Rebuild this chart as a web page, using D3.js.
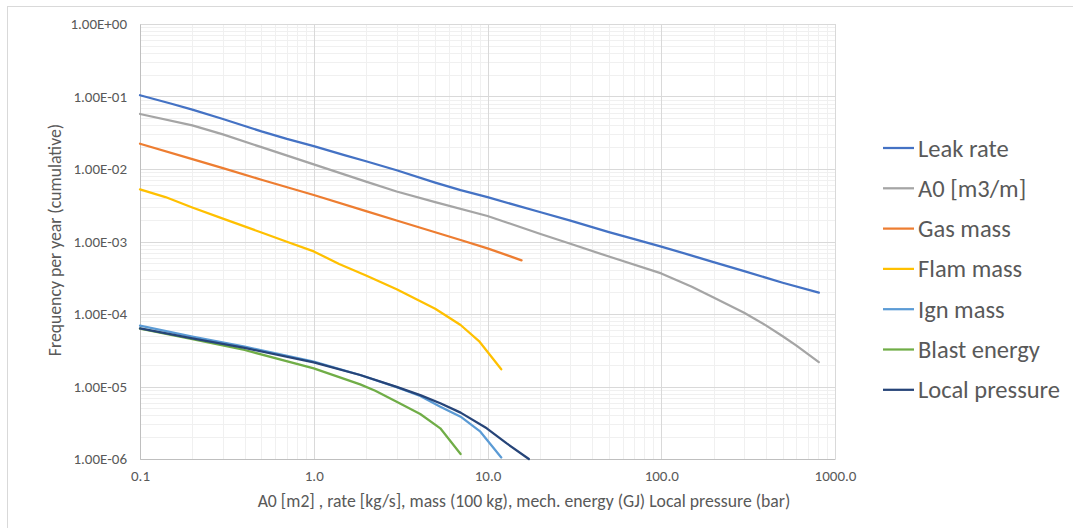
<!DOCTYPE html>
<html>
<head>
<meta charset="utf-8">
<script src="https://cdn.jsdelivr.net/npm/d3@7"></script>
<style>
  body { margin: 0; background: #fff; }
  svg { display: block; font-family: Carlito, "Open Sans", Lato, sans-serif; }
</style>
</head>
<body>
<div id="chart"></div>
<script>
// series data (x, cumulative frequency per year)
const leakX = [0.1, 0.15, 0.2, 0.3, 0.5, 0.7, 1, 1.5, 2, 3, 5, 7, 10, 15, 20, 30, 50, 70, 100, 150, 200, 300, 500, 807];
const leakY = [0.104, 0.080, 0.066, 0.049, 0.033, 0.026, 0.0207, 0.0155, 0.0128, 0.0096, 0.0065, 0.0051, 0.0041, 0.0031, 0.00255, 0.00194, 0.00135, 0.00108, 0.00085, 0.00064, 0.00052, 0.00039, 0.00027, 0.000197];

const a0X = [0.1, 0.2, 0.3, 0.5, 1, 2, 3, 5, 10, 20, 30, 50, 100, 150, 200, 300, 400, 500, 600, 807];
const a0Y = [0.0574, 0.040, 0.030, 0.020, 0.0116, 0.0067, 0.0049, 0.0035, 0.00225, 0.00128, 0.00093, 0.00062, 0.000363, 0.000237, 0.000169, 0.000104, 0.0000697, 0.0000493, 0.0000366, 0.0000217];

const gasX = [0.1, 0.2, 0.3, 0.5, 1, 2, 3, 5, 7, 10, 15.7];
const gasY = [0.0223, 0.0137, 0.0103, 0.0071, 0.00438, 0.00263, 0.00195, 0.00134, 0.00105, 0.000805, 0.00055];

const flamX = [0.1, 0.14, 0.2, 0.3, 0.5, 0.7, 1, 1.4, 2, 3, 5, 7, 9, 12];
const flamY = [0.00524, 0.0041, 0.00295, 0.00207, 0.00133, 0.00099, 0.00073, 0.00049, 0.00034, 0.00022, 0.000118, 0.0000705, 0.0000415, 0.0000173];

const ignX = [0.1, 0.2, 0.4, 1, 1.85, 3, 4.1, 5.35, 7, 9.1, 12];
const ignY = [6.9e-5, 4.86e-5, 3.54e-5, 2.2e-5, 1.44e-5, 9.8e-6, 7.4e-6, 5.27e-6, 3.83e-6, 2.38e-6, 1.05e-6];

const blastX = [0.1, 0.2, 0.4, 1, 1.85, 2.26, 3, 4.1, 5.35, 7];
const blastY = [6.3e-5, 4.5e-5, 3.19e-5, 1.78e-5, 1.07e-5, 8.75e-6, 6.17e-6, 4.18e-6, 2.65e-6, 1.17e-6];

const localX = [0.1, 0.2, 0.4, 1, 1.85, 3, 4.1, 5.35, 7, 9.9, 12.9, 17.3];
const localY = [6.34e-5, 4.6e-5, 3.4e-5, 2.15e-5, 1.44e-5, 9.9e-6, 7.6e-6, 5.86e-6, 4.36e-6, 2.65e-6, 1.64e-6, 1.0e-6];

const seriesNames = ["Leak rate", "A0 [m3/m]", "Gas mass", "Flam mass", "Ign mass", "Blast energy", "Local pressure"];
const seriesColors = ["#4472C4", "#A5A5A5", "#ED7D31", "#FFC000", "#5B9BD5", "#70AD47", "#264478"];
const seriesX = [leakX, a0X, gasX, flamX, ignX, blastX, localX];
const seriesY = [leakY, a0Y, gasY, flamY, ignY, blastY, localY];

const xTicks = [0.1, 1, 10, 100, 1000];
const yTicks = [1, 1e-1, 1e-2, 1e-3, 1e-4, 1e-5, 1e-6];

const width = 1073, height = 528;
const margin = {top: 24, right: 238, bottom: 69, left: 140};
const plotW = width - margin.left - margin.right,
      plotH = height - margin.top - margin.bottom;

const font = "Carlito, 'Open Sans', Lato, sans-serif";

const svg = d3.select("#chart").append("svg")
  .attr("width", width)
  .attr("height", height);

// outer chart frame (only top/left visible in the crop)
svg.append("rect")
  .attr("x", 7.5).attr("y", 6.5)
  .attr("width", width + 20).attr("height", height + 20)
  .attr("fill", "none")
  .attr("stroke", "#d9d9d9");

const g = svg.append("g")
  .attr("transform", "translate(" + margin.left + "," + margin.top + ")");

const x = d3.scaleLog().domain([0.1, 1000]).range([0, plotW]);
const y = d3.scaleLog().domain([1e-6, 1]).range([plotH, 0]);

// minor grid
const xMinor = [];
for (let d = 0.1; d < 1000; d *= 10) for (let k = 2; k <= 9; k++) xMinor.push(d * k);
const yMinor = [];
for (let d = 1e-6; d < 1; d *= 10) for (let k = 2; k <= 9; k++) yMinor.push(d * k);

g.append("g").selectAll("line").data(xMinor).join("line")
  .attr("x1", d => Math.round(x(d)) + 0.5).attr("x2", d => Math.round(x(d)) + 0.5)
  .attr("y1", 0).attr("y2", plotH)
  .attr("stroke", "#f0f0f0");
g.append("g").selectAll("line").data(yMinor).join("line")
  .attr("y1", d => Math.round(y(d)) + 0.5).attr("y2", d => Math.round(y(d)) + 0.5)
  .attr("x1", 0).attr("x2", plotW)
  .attr("stroke", "#f0f0f0");

// major grid
g.append("g").selectAll("line").data(xTicks).join("line")
  .attr("x1", d => Math.round(x(d)) + 0.5).attr("x2", d => Math.round(x(d)) + 0.5)
  .attr("y1", 0).attr("y2", plotH)
  .attr("stroke", "#d9d9d9");
g.append("g").selectAll("line").data(yTicks).join("line")
  .attr("y1", d => Math.round(y(d)) + 0.5).attr("y2", d => Math.round(y(d)) + 0.5)
  .attr("x1", 0).attr("x2", plotW)
  .attr("stroke", "#d9d9d9");

// axes (labels only, Excel style)
const xAxis = d3.axisBottom(x).tickValues(xTicks).tickSize(0).tickPadding(11)
  .tickFormat(d3.format(".1f"));
g.append("g")
  .attr("transform", "translate(0," + plotH + ")")
  .call(xAxis)
  .call(s => s.select(".domain").attr("stroke", "#bfbfbf"))
  .selectAll("text")
  .style("font-family", font)
  .style("font-size", "15px")
  .attr("fill", "#595959");

const expFmt = d => {
  const e = Math.round(Math.log10(d));
  return "1.00E" + (e < 0 ? "-" : "+") + String(Math.abs(e)).padStart(2, "0");
};
const yAxis = d3.axisLeft(y).tickValues(yTicks).tickSize(0).tickPadding(13)
  .tickFormat(expFmt);
g.append("g")
  .call(yAxis)
  .call(s => s.select(".domain").attr("stroke", "#bfbfbf"))
  .selectAll("text")
  .style("font-family", font)
  .style("font-size", "15px")
  .attr("fill", "#595959");

// axis titles
svg.append("text")
  .attr("x", 524).attr("y", 507)
  .attr("text-anchor", "middle")
  .attr("fill", "#595959")
  .style("font-size", "17.7px")
  .text("A0 [m2] , rate [kg/s], mass (100 kg), mech. energy (GJ) Local pressure (bar)");

svg.append("text")
  .attr("transform", "translate(61,240) rotate(-90)")
  .attr("text-anchor", "middle")
  .attr("fill", "#595959")
  .style("font-size", "17.7px")
  .text("Frequency per year (cumulative)");

// lines
const line = d3.line()
  .x(d => x(d[0]))
  .y(d => y(d[1]));

g.append("g").selectAll("path")
  .data(seriesNames.map((n, i) => seriesX[i].map((v, j) => [v, seriesY[i][j]])))
  .join("path")
  .attr("d", line)
  .attr("fill", "none")
  .attr("stroke", (d, i) => seriesColors[i])
  .attr("stroke-width", 2.25)
  .attr("stroke-linejoin", "round")
  .attr("stroke-linecap", "round");

// legend
const legend = svg.append("g").attr("transform", "translate(883,148)");
const row = legend.selectAll("g").data(seriesNames).join("g")
  .attr("transform", (d, i) => "translate(0," + (i * 40.3) + ")");
row.append("line")
  .attr("x1", 0).attr("x2", 31)
  .attr("stroke", (d, i) => seriesColors[i])
  .attr("stroke-width", 2.25);
row.append("text")
  .attr("x", 35).attr("dy", "0.35em")
  .attr("fill", "#595959")
  .style("font-size", "24.5px")
  .text(d => d);
</script>
</body>
</html>
